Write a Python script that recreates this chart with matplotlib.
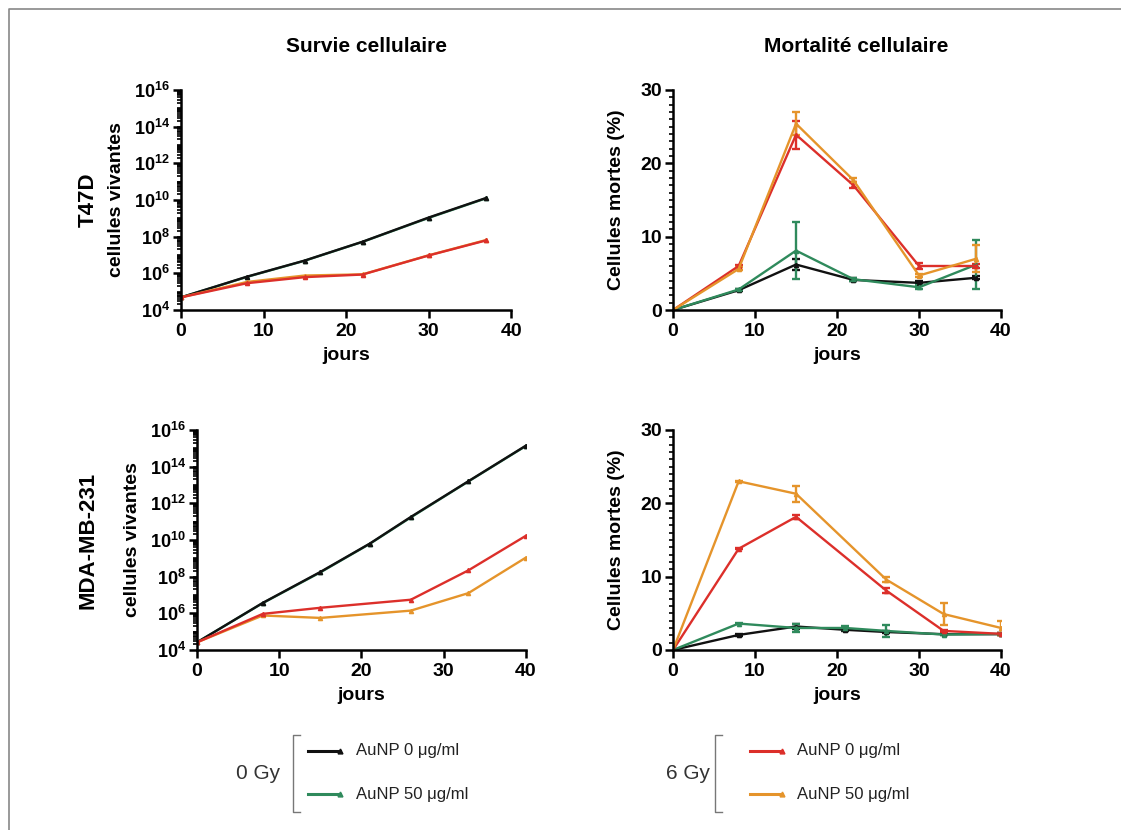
import matplotlib.pyplot as plt
from matplotlib.lines import Line2D
from matplotlib.ticker import FixedLocator, LogLocator, FuncFormatter, MultipleLocator, NullFormatter
import numpy as np

plt.rcParams['font.family'] = ['Liberation Sans', 'DejaVu Sans']
plt.rcParams['font.weight'] = 'bold'
plt.rcParams['mathtext.fontset'] = 'custom'
plt.rcParams['mathtext.rm'] = 'Liberation Sans:bold'
plt.rcParams['mathtext.bf'] = 'Liberation Sans:bold'
plt.rcParams['mathtext.it'] = 'Liberation Sans:bold'

# couleurs des séries
c_black = '#111111'
c_green = '#2f8a5c'
c_red = '#dc2f2a'
c_orange = '#e5942b'

# T47D - survie (cellules vivantes)
t47_x = [0, 8, 15, 22, 30, 37]
t47_surv_0gy_0 = [4.9e4, 6.6e5, 5.0e6, 5.3e7, 1.1e9, 1.3e10]
t47_surv_0gy_50 = [4.9e4, 6.4e5, 4.9e6, 5.2e7, 1.05e9, 1.25e10]
t47_surv_6gy_0 = [4.9e4, 2.9e5, 6.2e5, 8.6e5, 9.4e6, 6.3e7]
t47_surv_6gy_50 = [4.9e4, 3.4e5, 7.6e5, 8.8e5, 9.6e6, 6.6e7]

# T47D - mortalité (%)
t47_mort_0gy_0 = [0, 2.7, 6.2, 4.1, 3.7, 4.4]
t47_err_0gy_0 = [0, 0.1, 0.7, 0.2, 0.2, 0.2]
t47_mort_0gy_50 = [0, 2.8, 8.1, 4.2, 3.1, 6.2]
t47_err_0gy_50 = [0, 0.1, 3.9, 0.2, 0.3, 3.4]
t47_mort_6gy_0 = [0, 6.0, 23.9, 17.0, 6.0, 6.0]
t47_err_6gy_0 = [0, 0.2, 1.9, 0.4, 0.4, 0.3]
t47_mort_6gy_50 = [0, 5.6, 25.4, 17.7, 4.7, 7.0]
t47_err_6gy_50 = [0, 0.2, 1.6, 0.3, 0.2, 1.8]

# MDA-MB-231 - survie
mda_x_0gy = [0, 8, 15, 21, 26, 33, 40]
mda_x_6gy = [0, 8, 15, 26, 33, 40]
mda_surv_0gy_0 = [2.6e4, 3.7e6, 1.8e8, 6.3e9, 1.8e11, 1.6e13, 1.4e15]
mda_surv_0gy_50 = [2.6e4, 3.6e6, 1.7e8, 6.1e9, 1.7e11, 1.55e13, 1.35e15]
mda_surv_6gy_0 = [2.6e4, 9.3e5, 2.0e6, 5.5e6, 2.2e8, 1.7e10]
mda_surv_6gy_50 = [2.6e4, 7.6e5, 5.6e5, 1.4e6, 1.26e7, 1.1e9]

# MDA-MB-231 - mortalité (%)
mda_mort_0gy_0 = [0, 2.05, 3.2, 2.75, 2.45, 2.15, 2.15]
mda_err_0gy_0 = [0, 0.1, 0.4, 0.2, 0.2, 0.1, 0.1]
mda_mort_0gy_50 = [0, 3.6, 3.0, 3.0, 2.6, 2.1, 2.2]
mda_err_0gy_50 = [0, 0.1, 0.6, 0.3, 0.8, 0.1, 0.1]
mda_mort_6gy_0 = [0, 13.8, 18.15, 8.1, 2.6, 2.2]
mda_err_6gy_0 = [0, 0.1, 0.3, 0.3, 0.1, 0.1]
mda_mort_6gy_50 = [0, 23.0, 21.3, 9.6, 4.9, 3.0]
mda_err_6gy_50 = [0, 0.1, 1.1, 0.4, 1.5, 1.0]

fig = plt.figure(figsize=(11.21, 8.30), dpi=100)


def style_axes(ax):
    for s in ['top', 'right']:
        ax.spines[s].set_visible(False)
    for s in ['left', 'bottom']:
        ax.spines[s].set_linewidth(1.8)
    ax.tick_params(which='major', direction='out', length=6, width=1.8, labelsize=14)
    ax.tick_params(which='minor', direction='out', length=3, width=1.2)
    ax.tick_params(axis='y', which='major', pad=2)
    ax.set_xlim(0, 40)
    ax.xaxis.set_major_locator(MultipleLocator(10))
    ax.set_xlabel('jours', fontsize=14, fontweight='bold', labelpad=5)
    for lab in ax.get_xticklabels() + ax.get_yticklabels():
        lab.set_fontweight('bold')


def power_label(v, pos):
    return r'$\mathrm{10^{%d}}$' % int(round(np.log10(v)))


def survival(ax, x0, x6, s00, s050, s60, s650):
    kw = dict(marker='^', markersize=3, linewidth=1.7)
    ax.plot(x0, s050, color=c_green, **kw)
    ax.plot(x0, s00, color=c_black, **kw)
    ax.plot(x6, s650, color=c_orange, **kw)
    ax.plot(x6, s60, color=c_red, **kw)
    ax.set_yscale('log')
    ax.set_ylim(1e4, 1e16)
    ax.yaxis.set_major_locator(FixedLocator([10.0 ** k for k in range(4, 17, 2)]))
    ax.yaxis.set_major_formatter(FuncFormatter(power_label))
    ax.yaxis.set_minor_locator(LogLocator(base=10, subs=range(1, 10), numticks=100))
    ax.yaxis.set_minor_formatter(NullFormatter())
    ax.set_ylabel('cellules vivantes', fontsize=14, fontweight='bold', labelpad=6)
    style_axes(ax)
    ax.tick_params(axis='y', which='major', labelsize=13)


def mortality(ax, x0, x6, m00, e00, m050, e050, m60, e60, m650, e650):
    kw = dict(marker='^', markersize=3, linewidth=1.7, capsize=3, elinewidth=1.7, capthick=1.7)
    ax.errorbar(x0, m00, yerr=e00, color=c_black, **kw)
    ax.errorbar(x0, m050, yerr=e050, color=c_green, **kw)
    ax.errorbar(x6, m60, yerr=e60, color=c_red, **kw)
    ax.errorbar(x6, m650, yerr=e650, color=c_orange, **kw)
    ax.set_ylim(0, 30)
    ax.yaxis.set_major_locator(MultipleLocator(10))
    ax.yaxis.set_minor_locator(MultipleLocator(1))
    ax.set_ylabel('Cellules mortes (%)', fontsize=14, fontweight='bold', labelpad=11)
    style_axes(ax)


ax1 = fig.add_axes([0.1615, 0.6265, 0.2944, 0.2651])
ax2 = fig.add_axes([0.6004, 0.6265, 0.2926, 0.2651])
ax3 = fig.add_axes([0.1757, 0.2169, 0.2935, 0.2651])
ax4 = fig.add_axes([0.6004, 0.2169, 0.2926, 0.2651])

survival(ax1, t47_x, t47_x, t47_surv_0gy_0, t47_surv_0gy_50, t47_surv_6gy_0, t47_surv_6gy_50)
mortality(ax2, t47_x, t47_x, t47_mort_0gy_0, t47_err_0gy_0, t47_mort_0gy_50, t47_err_0gy_50,
          t47_mort_6gy_0, t47_err_6gy_0, t47_mort_6gy_50, t47_err_6gy_50)
survival(ax3, mda_x_0gy, mda_x_6gy, mda_surv_0gy_0, mda_surv_0gy_50, mda_surv_6gy_0, mda_surv_6gy_50)
mortality(ax4, mda_x_0gy, mda_x_6gy, mda_mort_0gy_0, mda_err_0gy_0, mda_mort_0gy_50, mda_err_0gy_50,
          mda_mort_6gy_0, mda_err_6gy_0, mda_mort_6gy_50, mda_err_6gy_50)

# titres de colonnes et de lignes
fig.text(367 / 1121, 1 - 47 / 830, 'Survie cellulaire', ha='center', va='center', fontsize=15, fontweight='bold')
fig.text(856 / 1121, 1 - 47 / 830, 'Mortalité cellulaire', ha='center', va='center', fontsize=15, fontweight='bold')
fig.text(88 / 1121, 1 - 200 / 830, 'T47D', rotation=90, ha='center', va='center', fontsize=16, fontweight='bold')
fig.text(88 / 1121, 1 - 540 / 830, 'MDA-MB-231', rotation=90, ha='center', va='center', fontsize=16, fontweight='bold')

# cadre gris (haut et gauche)
fig.add_artist(Line2D([9 / 1121, 9 / 1121, 1], [0, 1 - 9 / 830, 1 - 9 / 830],
                      transform=fig.transFigure, color='#888888', linewidth=1.2))


def px(x, y):
    return x / 1121, 1 - y / 830


# légende manuelle
groups = [
    ('0 Gy', 258, 293, 308, 356, [(c_black, 'AuNP 0 μg/ml'), (c_green, 'AuNP 50 μg/ml')]),
    ('6 Gy', 688, 715, 750, 797, [(c_red, 'AuNP 0 μg/ml'), (c_orange, 'AuNP 50 μg/ml')]),
]
for label, lx, bx, sx, tx, items in groups:
    fig.text(*px(lx, 773), label, ha='center', va='center', fontsize=15, fontweight='normal', color='#333333')
    xs = [px(bx + 7, 735)[0], px(bx, 735)[0], px(bx, 812)[0], px(bx + 7, 812)[0]]
    ys = [px(0, 735)[1], px(0, 735)[1], px(0, 812)[1], px(0, 812)[1]]
    fig.add_artist(Line2D(xs, ys, transform=fig.transFigure, color='#777777', linewidth=1.0))
    for (col, txt), yy in zip(items, [751, 794]):
        fig.add_artist(Line2D([px(sx, 0)[0], px(sx + 32, 0)[0]], [px(0, yy)[1]] * 2,
                              transform=fig.transFigure, color=col, linewidth=2.2,
                              marker='^', markersize=3.5, markevery=[1]))
        fig.text(*px(tx, yy), txt, ha='left', va='center', fontsize=12, fontweight='normal', color='#222222')

fig.savefig('out.png', dpi=100)
